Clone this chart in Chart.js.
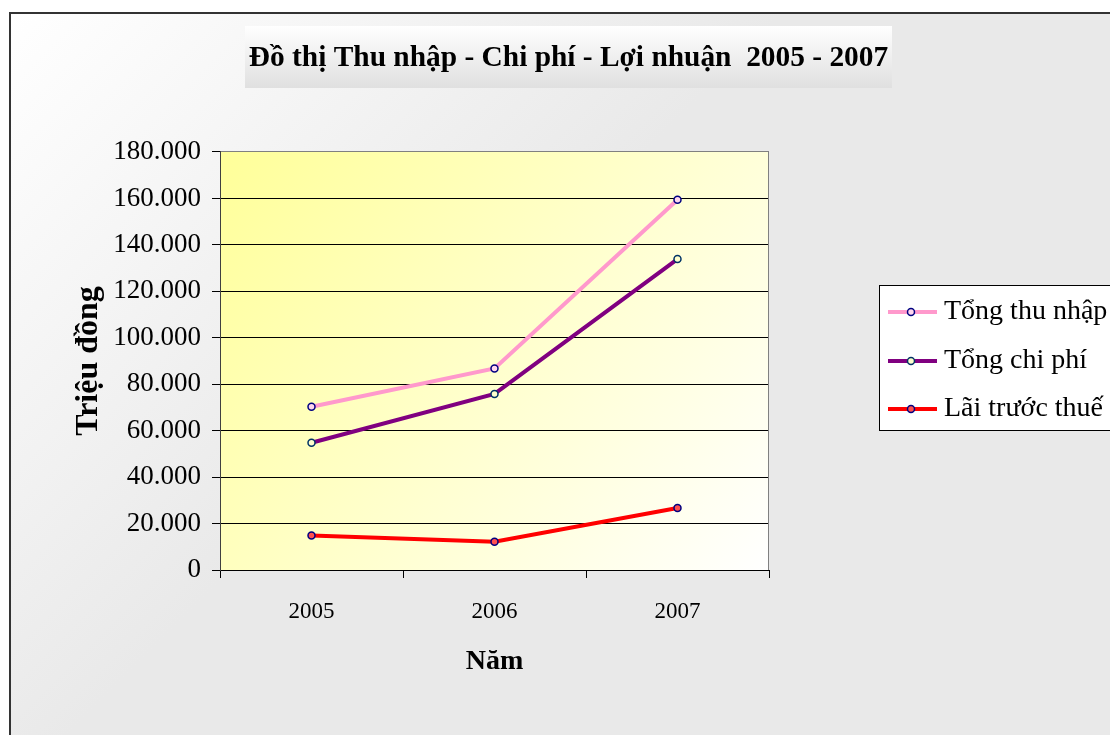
<!DOCTYPE html>
<html>
<head>
<meta charset="utf-8">
<script src="https://cdn.jsdelivr.net/npm/chart.js@4"></script>
<style>
html, body { margin: 0; padding: 0; background: #fff; overflow: hidden; }
canvas { display: block; }
</style>
</head>
<body>
<canvas id="chart" width="1110" height="735"></canvas>
<script>
const years = ['2005', '2006', '2007'];
const seriesNames = ['Tổng thu nhập', 'Tổng chi phí', 'Lãi trước thuế'];
const incomeValues = [70300, 86800, 159400];
const costValues = [54800, 75800, 133900];
const profitValues = [14900, 12200, 26700];
const yMin = 0;
const yMax = 180000;
const yStep = 20000;
const chartTitle = 'Đồ thị Thu nhập - Chi phí - Lợi nhuận  2005 - 2007';
const yTitle = 'Triệu đồng';
const xTitle = 'Năm';

const serif = "'Liberation Serif', 'Times New Roman', serif";

function formatThousands(v) {
    return String(v).replace(/\B(?=(\d{3})+(?!\d))/g, '.');
}

// backgrounds, title box, plot border and the side legend
const framePlugin = {
    id: 'frame',
    afterLayout(chart) {
        const t = chart.titleBlock;
        t.left = 245; t.right = 892; t.top = 26; t.bottom = 88;
        t.width = t.right - t.left;
        t.height = t.bottom - t.top;
    },
    beforeDraw(chart) {
        const {ctx, width, height, chartArea: a} = chart;
        ctx.save();
        ctx.fillStyle = '#fff';
        ctx.fillRect(0, 0, width, height);

        let g = ctx.createLinearGradient(10, 13, 400, 400);
        g.addColorStop(0, '#ffffff');
        g.addColorStop(1, '#e9e9e9');
        ctx.fillStyle = g;
        ctx.fillRect(10, 13, width, height);
        ctx.strokeStyle = '#333';
        ctx.lineWidth = 2;
        ctx.strokeRect(10, 13, width + 10, height + 10);

        const t = chart.titleBlock;
        g = ctx.createLinearGradient(0, t.top, 0, t.bottom);
        g.addColorStop(0, '#ffffff');
        g.addColorStop(1, '#e0e0e0');
        ctx.fillStyle = g;
        ctx.fillRect(t.left, t.top, t.width, t.height);

        g = ctx.createLinearGradient(a.left, a.top, a.right, a.bottom);
        g.addColorStop(0, '#ffff99');
        g.addColorStop(1, '#ffffff');
        ctx.fillStyle = g;
        ctx.fillRect(a.left, a.top, a.width, a.height);
        ctx.restore();
    },
    beforeDatasetsDraw(chart) {
        const {ctx, chartArea: a} = chart;
        ctx.save();
        ctx.strokeStyle = '#808080';
        ctx.lineWidth = 1;
        ctx.beginPath();
        ctx.moveTo(a.right - 0.5, a.top);
        ctx.lineTo(a.right - 0.5, a.bottom);
        ctx.stroke();
        ctx.restore();
    },
    afterDraw(chart) {
        const ctx = chart.ctx;
        ctx.save();
        ctx.fillStyle = '#fff';
        ctx.fillRect(879, 285, 260, 146);
        ctx.strokeStyle = '#000';
        ctx.lineWidth = 1;
        ctx.strokeRect(879.5, 285.5, 260, 145);
        ctx.font = '28px ' + serif;
        ctx.textBaseline = 'middle';
        chart.data.datasets.forEach((ds, i) => {
            const y = Math.round(312 + i * 48.5);
            ctx.strokeStyle = ds.borderColor;
            ctx.lineWidth = ds.borderWidth;
            ctx.beginPath();
            ctx.moveTo(888, y);
            ctx.lineTo(937, y);
            ctx.stroke();
            ctx.beginPath();
            ctx.arc(911, y, ds.pointRadius, 0, Math.PI * 2);
            ctx.fillStyle = ds.pointBackgroundColor;
            ctx.fill();
            ctx.strokeStyle = ds.pointBorderColor;
            ctx.lineWidth = ds.pointBorderWidth;
            ctx.stroke();
            ctx.fillStyle = '#000';
            ctx.fillText(ds.label, 944, y);
        });
        ctx.restore();
    }
};

function lineSet(label, values, color, pointFill, pointEdge) {
    return {
        label: label,
        data: values,
        borderColor: color,
        backgroundColor: color,
        borderWidth: 4,
        tension: 0,
        fill: false,
        pointRadius: 3.5,
        pointBorderWidth: 1.5,
        pointBackgroundColor: pointFill,
        pointBorderColor: pointEdge
    };
}

new Chart(document.getElementById('chart'), {
    type: 'line',
    data: {
        labels: years,
        datasets: [
            lineSet(seriesNames[0], incomeValues, '#ff99cc', '#ffd6ee', '#000080'),
            lineSet(seriesNames[1], costValues, '#800080', '#ffffcc', '#003366'),
            lineSet(seriesNames[2], profitValues, '#ff0000', '#ff5050', '#000080')
        ]
    },
    options: {
        responsive: false,
        animation: false,
        layout: {padding: {left: 20, right: 341, top: 0, bottom: 0}},
        plugins: {
            legend: {display: false},
            tooltip: {enabled: false},
            title: {
                display: true,
                text: chartTitle,
                color: '#000',
                font: {family: serif, size: 29.4, weight: 'bold'},
                padding: {top: 15, bottom: 101.7}
            }
        },
        scales: {
            x: {
                offset: true,
                afterFit: (s) => { s.height = 165; },
                grid: {
                    offset: true,
                    drawOnChartArea: false,
                    drawTicks: true,
                    tickLength: 8,
                    tickColor: '#000'
                },
                border: {color: '#000', width: 1},
                ticks: {color: '#000', padding: 20, font: {family: serif, size: 23}},
                title: {
                    display: true,
                    text: xTitle,
                    color: '#000',
                    font: {family: serif, size: 28, weight: 'bold'},
                    padding: {top: 0, bottom: 56}
                }
            },
            y: {
                min: yMin,
                max: yMax,
                afterFit: (s) => { s.width = 200; },
                grid: {
                    color: (c) => (c.tick && c.tick.value === yMax ? '#808080' : '#000'),
                    lineWidth: 1,
                    tickLength: 8,
                    tickColor: '#000'
                },
                border: {color: '#404040', width: 1},
                ticks: {
                    stepSize: yStep,
                    color: '#000',
                    padding: 11,
                    font: {family: serif, size: 27},
                    callback: (v) => formatThousands(v)
                },
                title: {
                    display: true,
                    text: yTitle,
                    color: '#000',
                    font: {family: serif, size: 32, weight: 'bold'},
                    padding: {top: 50, bottom: 0}
                }
            }
        }
    },
    plugins: [framePlugin]
});
</script>
</body>
</html>
